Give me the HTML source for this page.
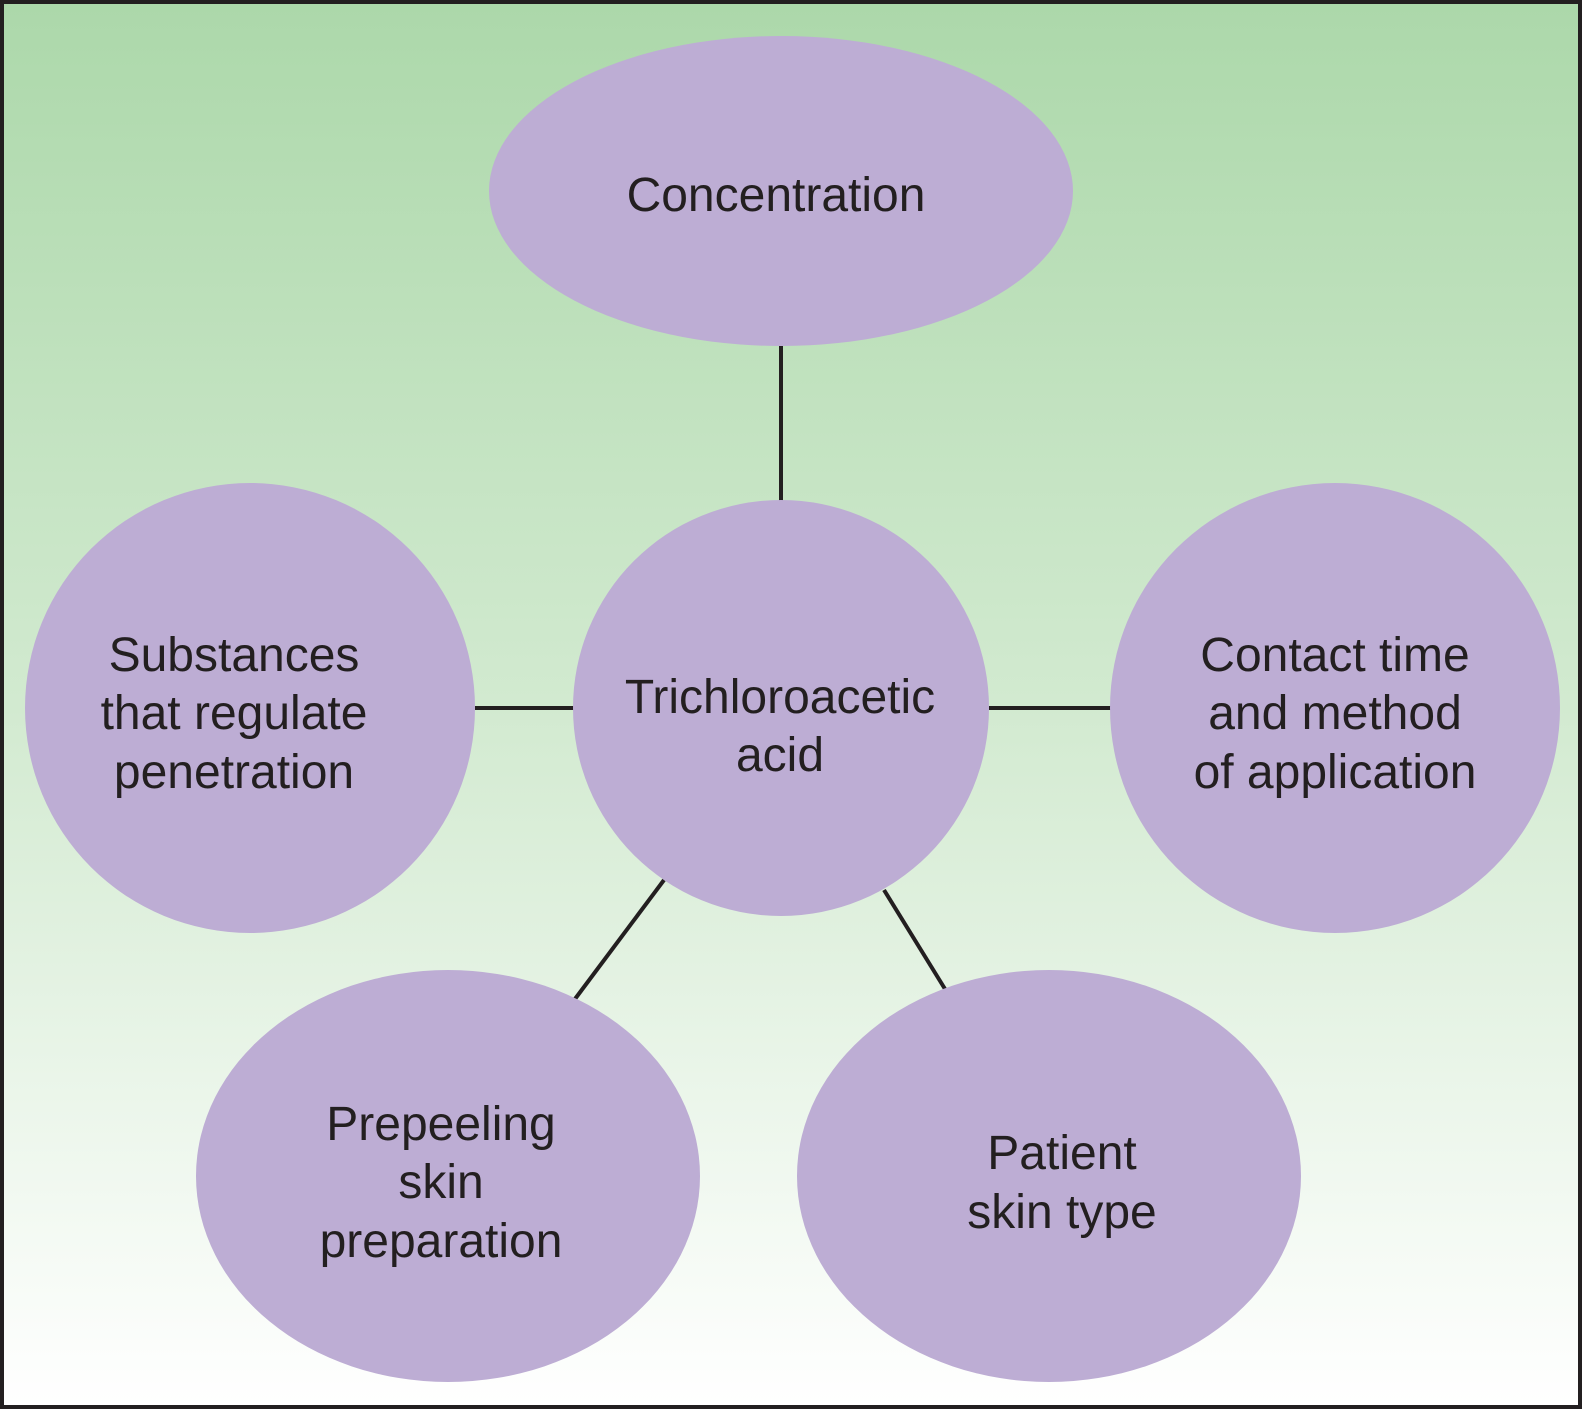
<!DOCTYPE html>
<html><head><style>
html,body{margin:0;padding:0;background:#fff;}
svg{display:block;}
text{font-family:"Liberation Sans",Arial,sans-serif;font-size:48px;fill:#231f20;text-anchor:middle;}
</style></head><body>
<svg width="1582" height="1409" viewBox="0 0 1582 1409" xmlns="http://www.w3.org/2000/svg">
<defs><linearGradient id="g" x1="0" y1="0" x2="0" y2="1">
<stop offset="0" stop-color="#acd8aa"/><stop offset="0.5" stop-color="#d2ead0"/><stop offset="1" stop-color="#ffffff"/></linearGradient></defs>
<rect x="2" y="2" width="1578" height="1405" fill="url(#g)" stroke="#231f20" stroke-width="4"/>
<g stroke="#231f20" stroke-width="4">
<line x1="781" y1="346" x2="781" y2="501"/>
<line x1="475" y1="708" x2="574" y2="708"/>
<line x1="989" y1="708" x2="1111" y2="708"/>
<line x1="664" y1="880" x2="575" y2="999"/>
<line x1="884" y1="890" x2="945" y2="989"/>
</g>
<g fill="#bdadd4">
<ellipse cx="781" cy="191" rx="292" ry="155"/>
<circle cx="781" cy="708" r="208"/>
<circle cx="250" cy="708" r="225"/>
<circle cx="1335" cy="708" r="225"/>
<ellipse cx="448" cy="1176" rx="252" ry="206"/>
<ellipse cx="1049" cy="1176" rx="252" ry="206"/>
</g>
<text x="776" y="211">Concentration</text>
<text x="780" y="713">Trichloroacetic</text>
<text x="780" y="771">acid</text>
<text x="234" y="671">Substances</text>
<text x="234" y="729">that regulate</text>
<text x="234" y="788">penetration</text>
<text x="1335" y="671">Contact time</text>
<text x="1335" y="729">and method</text>
<text x="1335" y="788">of application</text>
<text x="441" y="1140">Prepeeling</text>
<text x="441" y="1198">skin</text>
<text x="441" y="1257">preparation</text>
<text x="1062" y="1169">Patient</text>
<text x="1062" y="1228">skin type</text>
</svg>
</body></html>
